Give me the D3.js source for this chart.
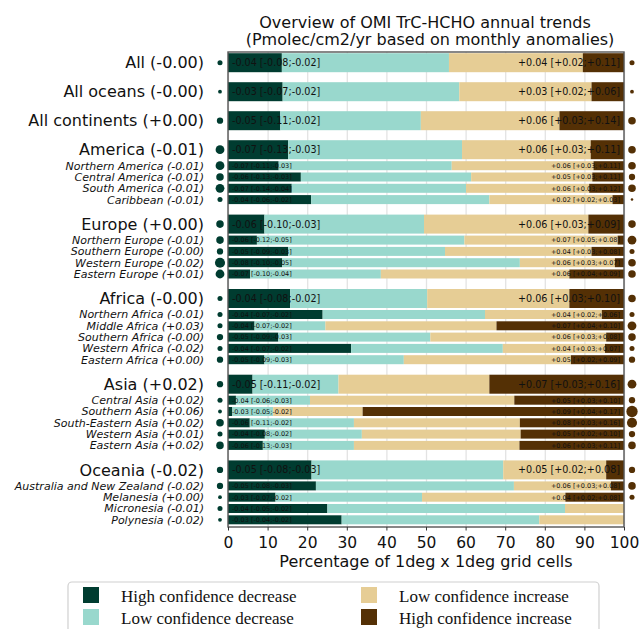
<!DOCTYPE html>
<html>
<head>
<meta charset="utf-8">
<script src="https://cdn.jsdelivr.net/npm/d3@7"></script>
<style>
  body { margin: 0; background: #fff; }
  text { font-family: "DejaVu Sans", sans-serif; fill: #111; }
</style>
</head>
<body>
<div id="chart"></div>
<script>
// regions, top to bottom
const regions = ["All", "All oceans", "All continents",
  "America", "Northern America", "Central America", "South America", "Caribbean",
  "Europe", "Northern Europe", "Southern Europe", "Western Europe", "Eastern Europe",
  "Africa", "Northern Africa", "Middle Africa", "Southern Africa", "Western Africa", "Eastern Africa",
  "Asia", "Central Asia", "Southern Asia", "South-Eastern Asia", "Western Asia", "Eastern Asia",
  "Oceania", "Australia and New Zealand", "Melanesia", "Micronesia", "Polynesia"];
const regionTrend = ["-0.00", "-0.00", "+0.00",
  "-0.01", "-0.01", "-0.01", "-0.01", "-0.01",
  "+0.00", "-0.01", "-0.00", "-0.02", "+0.01",
  "-0.00", "-0.01", "+0.03", "-0.00", "-0.02", "+0.00",
  "+0.02", "+0.02", "+0.06", "+0.02", "+0.01", "+0.02",
  "-0.02", "-0.02", "+0.00", "-0.01", "-0.02"];
// 1 = main group row, 0 = sub-region
const isGroup = [1, 1, 1, 1, 0, 0, 0, 0, 1, 0, 0, 0, 0, 1, 0, 0, 0, 0, 0, 1, 0, 0, 0, 0, 0, 1, 0, 0, 0, 0];

// percentage of grid cells per class
const hcDec = [13.6, 13.8, 13.2, 15.2, 12.8, 18.4, 16.1, 21.0, 9.2, 7.3, 15.2, 13.7, 5.6,
  15.7, 23.9, 6.7, 12.7, 31.1, 9.2, 6.2, 2.0, 1.1, 5.5, 9.3, 8.8, 21.1, 22.2, 12.0, 25.1, 28.7];
const lcDec = [42.2, 44.6, 35.5, 43.9, 43.7, 43.0, 44.0, 45.0, 40.3, 52.4, 39.6, 60.0, 33.0,
  34.6, 41.0, 17.9, 38.4, 38.3, 35.2, 21.7, 18.7, 10.3, 26.3, 24.5, 23.0, 48.4, 50.0, 37.0, 60.0, 49.9];
const lcInc = [33.8, 33.4, 35.0, 32.5, 35.8, 30.6, 31.1, 31.1, 41.5, 38.7, 37.0, 24.0, 47.6,
  35.9, 29.5, 43.2, 44.4, 25.8, 42.2, 38.1, 51.6, 22.6, 41.9, 40.1, 41.8, 26.0, 24.5, 36.2, 14.9, 21.4];
const hcInc = [10.4, 8.2, 16.3, 8.4, 7.7, 8.0, 8.8, 2.9, 9.0, 1.6, 8.2, 2.3, 13.8,
  13.8, 5.6, 32.2, 4.5, 4.8, 13.4, 34.0, 27.7, 66.0, 26.3, 26.1, 26.4, 4.5, 3.3, 14.8, 0, 0];

const decLabels = ["-0.04 [-0.08;-0.02]", "-0.03 [-0.07;-0.02]", "-0.05 [-0.11;-0.02]",
  "-0.07 [-0.13;-0.03]", "-0.07 [-0.11;-0.03]", "-0.06 [-0.13;-0.03]", "-0.07 [-0.14;-0.04]", "-0.04 [-0.06;-0.02]",
  "-0.06 [-0.10;-0.03]", "-0.06 [-0.12;-0.05]", "-0.05 [-0.09;-0.03]", "-0.08 [-0.10;-0.05]", "-0.07 [-0.10;-0.04]",
  "-0.04 [-0.08;-0.02]", "-0.04 [-0.07;-0.02]", "-0.04 [-0.07;-0.02]", "-0.05 [-0.09;-0.03]", "-0.04 [-0.07;-0.02]", "-0.05 [-0.09;-0.03]",
  "-0.05 [-0.11;-0.02]", "-0.04 [-0.06;-0.03]", "-0.03 [-0.05;-0.02]", "-0.06 [-0.11;-0.02]", "-0.04 [-0.08;-0.02]", "-0.06 [-0.13;-0.03]",
  "-0.05 [-0.08;-0.03]", "-0.05 [-0.08;-0.03]", "-0.03 [-0.07;-0.02]", "-0.04 [-0.05;-0.02]", "-0.03 [-0.04;-0.02]"];
const incLabels = ["+0.04 [+0.02;+0.11]", "+0.03 [+0.02;+0.06]", "+0.06 [+0.03;+0.14]",
  "+0.06 [+0.03;+0.11]", "+0.06 [+0.03;+0.11]", "+0.05 [+0.03;+0.11]", "+0.06 [+0.03;+0.12]", "+0.02 [+0.02;+0.03]",
  "+0.06 [+0.03;+0.09]", "+0.07 [+0.05;+0.08]", "+0.04 [+0.03;+0.08]", "+0.06 [+0.03;+0.07]", "+0.06 [+0.04;+0.09]",
  "+0.06 [+0.03;+0.10]", "+0.04 [+0.02;+0.06]", "+0.07 [+0.04;+0.10]", "+0.06 [+0.03;+0.08]", "+0.04 [+0.03;+0.07]", "+0.05 [+0.02;+0.09]",
  "+0.07 [+0.03;+0.16]", "+0.05 [+0.03;+0.10]", "+0.09 [+0.04;+0.17]", "+0.08 [+0.03;+0.16]", "+0.05 [+0.02;+0.10]", "+0.06 [+0.03;+0.11]",
  "+0.05 [+0.02;+0.08]", "+0.06 [+0.03;+0.08]", "+0.04 [+0.02;+0.08]", "", ""];

const classNames = ["High confidence decrease", "Low confidence decrease", "Low confidence increase", "High confidence increase"];
const colors = ["#003c30", "#99d8cd", "#e6cd95", "#543005"];

const width = 640, height = 629;
const margin = { top: 52, left: 228, right: 16, bottom: 102 };

const svg = d3.select("#chart").append("svg")
  .attr("width", width).attr("height", height);

// x scale
const x = d3.scaleLinear().domain([0, 100]).range([margin.left, width - margin.right]);

// row centres: spacing depends on whether rows are groups or sub-regions
let yc = [], cur = 62.7;
regions.forEach(function (r, i) {
  if (i > 0) {
    const a = isGroup[i - 1], b = isGroup[i];
    cur += a && b ? 29 : a && !b ? 16 : !a && !b ? 11.3 : 24.5;
  }
  yc.push(cur);
});
const bandH = i => isGroup[i] ? 19 : 9;

// stacked series
const rows = regions.map((r, i) => ({ i: i, v: [hcDec[i], lcDec[i], lcInc[i], hcInc[i]] }));
const stacked = d3.stack().keys([0, 1, 2, 3]).value((d, k) => d.v[k])(rows);

// grid
svg.append("g")
  .attr("transform", `translate(0,${height - margin.bottom})`)
  .call(d3.axisBottom(x).ticks(10).tickSize(-(height - margin.bottom - margin.top)).tickFormat(""))
  .call(g => g.select(".domain").remove())
  .call(g => g.selectAll("line").attr("stroke", "#e3e3e3").attr("stroke-width", 1.3));

// bars
svg.append("g").selectAll("g")
  .data(stacked)
  .join("g")
  .attr("fill", (d, k) => colors[k])
  .selectAll("rect")
  .data(d => d)
  .join("rect")
  .attr("x", d => x(d[0]))
  .attr("width", d => x(d[1]) - x(d[0]))
  .attr("y", d => yc[d.data.i] - bandH(d.data.i) / 2)
  .attr("height", d => bandH(d.data.i));

// text inside bars
svg.append("g").selectAll("text")
  .data(rows)
  .join("text")
  .attr("x", x(0) + 4)
  .attr("y", d => yc[d.i])
  .attr("dy", "0.36em")
  .style("font-size", d => isGroup[d.i] ? "9.6px" : "6.5px")
  .text(d => decLabels[d.i]);

svg.append("g").selectAll("text")
  .data(rows.filter(d => incLabels[d.i] !== ""))
  .join("text")
  .attr("x", x(100) - 4)
  .attr("y", d => yc[d.i])
  .attr("dy", "0.36em")
  .attr("text-anchor", "end")
  .style("font-size", d => isGroup[d.i] ? "9.6px" : "6.5px")
  .text(d => incLabels[d.i]);

// frame
svg.append("rect")
  .attr("x", x(0)).attr("y", margin.top)
  .attr("width", x(100) - x(0)).attr("height", height - margin.bottom - margin.top)
  .attr("fill", "none").attr("stroke", "#555").attr("stroke-width", 1.4);

// x axis
const xAxis = svg.append("g")
  .attr("transform", `translate(0,${height - margin.bottom})`)
  .call(d3.axisBottom(x).ticks(10).tickSize(3.5).tickPadding(6))
  .call(g => g.select(".domain").remove());
xAxis.selectAll("line").attr("stroke", "#333");
xAxis.selectAll("text").style("font-size", "15.5px").style("font-family", "DejaVu Sans").attr("fill", "#111");

svg.append("text")
  .attr("x", (x(0) + x(100)) / 2).attr("y", 567)
  .attr("text-anchor", "middle")
  .style("font-size", "16px")
  .text("Percentage of 1deg x 1deg grid cells");

// title
svg.append("text").attr("x", 425).attr("y", 28).attr("text-anchor", "middle")
  .style("font-size", "16px").text("Overview of OMI TrC-HCHO annual trends");
svg.append("text").attr("x", 430).attr("y", 45).attr("text-anchor", "middle")
  .style("font-size", "16px").text("(Pmolec/cm2/yr based on monthly anomalies)");

// region labels
svg.append("g").selectAll("text")
  .data(rows)
  .join("text")
  .attr("x", 204)
  .attr("y", d => yc[d.i])
  .attr("dy", "0.36em")
  .attr("text-anchor", "end")
  .style("font-size", d => isGroup[d.i] ? "16px" : "11px")
  .style("font-style", d => isGroup[d.i] ? "normal" : "italic")
  .text(d => `${regions[d.i]} (${regionTrend[d.i]})`);

// dots sized by median trend
const r = d3.scaleLinear().domain([0, 0.1]).range([0, 6.3]);
const parseMed = s => Math.abs(+s.split(" ")[0]);

svg.append("g").selectAll("circle")
  .data(rows)
  .join("circle")
  .attr("cx", 220)
  .attr("cy", d => yc[d.i])
  .attr("r", d => r(parseMed(decLabels[d.i])))
  .attr("fill", colors[0]);

svg.append("g").selectAll("circle")
  .data(rows.filter(d => incLabels[d.i] !== ""))
  .join("circle")
  .attr("cx", 632)
  .attr("cy", d => yc[d.i])
  .attr("r", d => r(parseMed(incLabels[d.i])))
  .attr("fill", colors[3]);

// legend
const leg = svg.append("g");
leg.append("rect")
  .attr("x", 68).attr("y", 582).attr("width", 531).attr("height", 60).attr("rx", 4)
  .attr("fill", "#fff").attr("stroke", "#d0d0d0").attr("stroke-width", 1.2);
const legPos = [[83, 587], [83, 609], [361, 587], [361, 609]];
const legOrder = [0, 1, 2, 3];
legOrder.forEach(function (k, j) {
  const p = legPos[j];
  leg.append("rect").attr("x", p[0]).attr("y", p[1]).attr("width", 16).attr("height", 16)
    .attr("fill", colors[k]);
  leg.append("text").attr("x", p[0] + 38).attr("y", p[1] + 15)
    .style("font-family", "Liberation Serif, Times New Roman, serif")
    .style("font-size", "17px")
    .text(classNames[k]);
});
</script>
</body>
</html>
